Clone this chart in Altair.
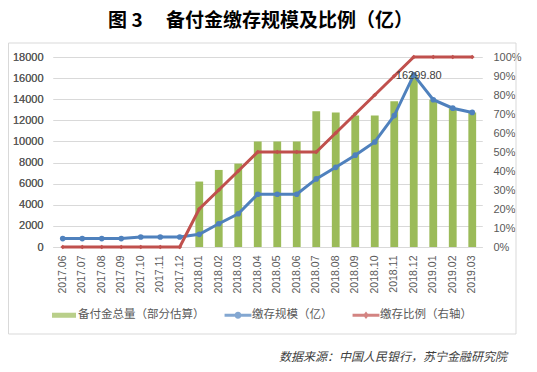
import altair as alt
import pandas as pd

months = ["2017.06", "2017.07", "2017.08", "2017.09", "2017.10", "2017.11", "2017.12",
          "2018.01", "2018.02", "2018.03", "2018.04", "2018.05", "2018.06", "2018.07",
          "2018.08", "2018.09", "2018.10", "2018.11", "2018.12", "2019.01", "2019.02", "2019.03"]
reserve_total = [None, None, None, None, None, None, None,
                 6200, 7300, 7900, 10000, 10000, 10000, 12850,
                 12750, 12450, 12450, 13800, 16299.8, 13950, 13150, 12750]
deposit_scale = [800, 800, 800, 800, 950, 950, 950,
                 1200, 2200, 3150, 5000, 5000, 5000, 6450,
                 7550, 8700, 9950, 12450, 16299.8, 13950, 13150, 12750]
deposit_ratio = [0, 0, 0, 0, 0, 0, 0,
                 20, 30, 40, 50, 50, 50, 50,
                 60, 70, 80, 90, 100, 100, 100, 100]

series_names = ["备付金总量（部分估算）", "缴存规模（亿）", "缴存比例（右轴）"]
series_colors = ["#9BBB59", "#4F81BD", "#C0504D"]
left_ticks = list(range(0, 18001, 2000))
right_ticks = [i / 10 for i in range(0, 11)]
title_text = "图 3　 备付金缴存规模及比例（亿）"
source_text = "数据来源：中国人民银行，苏宁金融研究院"
peak_month = "2018.12"

df = pd.DataFrame({
    "month": months,
    "total": reserve_total,
    "scale": deposit_scale,
    "ratio": [r / 100 for r in deposit_ratio],
})

GRID = "#D9D9D9"
TXT = "#595959"
NUM_FONT = "Liberation Sans"
CJK_FONT = "Noto Sans CJK SC"

x_enc = alt.X(
    "month:N", sort=months,
    scale=alt.Scale(paddingInner=0.6, paddingOuter=0.3),
    axis=alt.Axis(title=None, labelAngle=270, labelFontSize=10.5, labelPadding=8,
                  ticks=False, domainColor=GRID, labelColor=TXT, labelFont=NUM_FONT),
)

left_scale = alt.Scale(domain=[0, 18000])
left_axis = alt.Axis(title=None, values=left_ticks, format="d", grid=True, gridColor=GRID,
                     domain=False, ticks=False, labelPadding=10, labelFontSize=11,
                     labelColor=TXT, labelFont=NUM_FONT)

base = alt.Chart(df)

bars = base.mark_bar(color="#9BBB59").encode(
    x=x_enc,
    y=alt.Y("total:Q", scale=left_scale, axis=left_axis),
)

blue_line = base.mark_line(color="#4F81BD", strokeWidth=3).encode(
    x=x_enc, y=alt.Y("scale:Q", scale=left_scale, axis=left_axis))
blue_pts = base.mark_point(filled=True, color="#4F81BD", size=32, opacity=1, shape="circle").encode(
    x=x_enc, y=alt.Y("scale:Q", scale=left_scale, axis=left_axis))

peak_label = base.transform_filter(alt.datum.month == peak_month).mark_text(
    dx=5, dy=1, align="center", baseline="middle", fontSize=11, color="#404040", font=NUM_FONT
).encode(
    x=x_enc, y=alt.Y("scale:Q", scale=left_scale, axis=left_axis),
    text=alt.Text("scale:Q", format=".2f"),
)

shape_paths = [
    "M-0.857,-0.18 L0.857,-0.18 L0.857,0.18 L-0.857,0.18 Z",
    "M-0.96,-0.107 L0.96,-0.107 L0.96,0.107 L-0.96,0.107 Z M0.25,0 A0.25,0.25 0 1,1 -0.25,0 A0.25,0.25 0 1,1 0.25,0 Z",
    "M-0.96,-0.107 L0.96,-0.107 L0.96,0.107 L-0.96,0.107 Z M0,-0.27 L0.21,0 L0,0.27 L-0.21,0 Z",
]
legend_props = dict(
    title=None, orient="none", direction="horizontal", legendX=-3, legendY=244,
    symbolSize=784, symbolStrokeWidth=0, labelFont=CJK_FONT, labelFontSize=11.5,
    labelColor=TXT, labelOffset=0, columnPadding=19, padding=0, gridAlign="each",
)
legend_layer = base.transform_filter("false").transform_calculate(
    series="'" + series_names[1] + "'"
).mark_point(filled=True).encode(
    x=x_enc, y=alt.Y("scale:Q", scale=left_scale, axis=left_axis),
    color=alt.Color("series:N", scale=alt.Scale(domain=series_names, range=series_colors),
                    legend=alt.Legend(**legend_props)),
    shape=alt.Shape("series:N", scale=alt.Scale(domain=series_names, range=shape_paths),
                    legend=alt.Legend(**legend_props)),
)

left = alt.layer(bars, blue_line, blue_pts, legend_layer)

right_scale = alt.Scale(domain=[0, 1])
right_axis = alt.Axis(title=None, orient="right", values=right_ticks, format=".0%", grid=False,
                      domain=False, ticks=False, labelPadding=11, labelFontSize=11,
                      labelColor=TXT, labelFont=NUM_FONT)
red_line = base.mark_line(color="#C0504D", strokeWidth=3).encode(
    x=x_enc, y=alt.Y("ratio:Q", scale=right_scale, axis=right_axis))
red_pts = base.mark_point(filled=True, color="#C0504D", size=22, opacity=1, shape="diamond").encode(
    x=x_enc, y=alt.Y("ratio:Q", scale=right_scale, axis=right_axis))
right = alt.layer(red_line, red_pts)

main = alt.layer(left, right).resolve_scale(y="independent")

deco_df = pd.DataFrame({"t": [source_text]})
border = alt.Chart(deco_df).mark_rect(fill="transparent", stroke=GRID, strokeWidth=1).encode(
    x=alt.value(-44.5), x2=alt.value(463), y=alt.value(-14), y2=alt.value(277))
source = alt.Chart(deco_df).mark_text(
    align="right", baseline="middle", fontSize=12, fontStyle="italic", font=CJK_FONT,
    color="#404040").encode(x=alt.value(454), y=alt.value(300), text="t:N")

chart = alt.layer(border, main, source, peak_label).properties(
    width=429, height=190,
    title=alt.TitleParams(text=title_text, fontSize=19, fontWeight="bold", font=CJK_FONT,
                          anchor="middle", offset=3, baseline="middle", dx=-7, color="#000000"),
    autosize=alt.AutoSizeParams(type="none"),
    padding={"left": 45, "top": 49, "right": 47, "bottom": 117},
    background="white",
).configure_view(stroke=None)

chart.save("out.html", embed_options={"renderer": "svg", "actions": False})
